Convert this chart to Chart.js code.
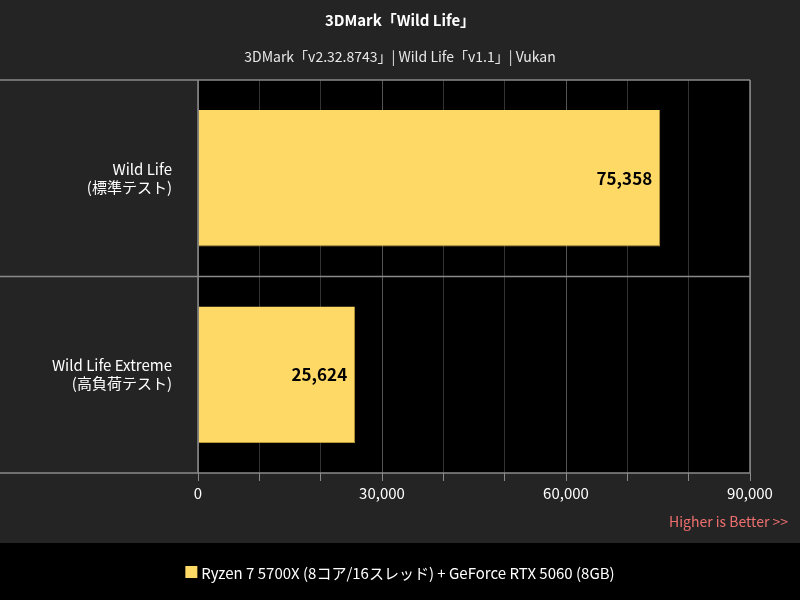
<!DOCTYPE html>
<html><head><meta charset="utf-8">
<script src="https://cdn.jsdelivr.net/npm/chart.js@4"></script>
<style>html,body{margin:0;padding:0;background:#242424}canvas{display:block}</style>
</head><body>
<div style="width:800px;height:600px"><canvas id="c" width="800" height="600"></canvas></div>
<script>
const categories = [["Wild Life","(標準テスト)"],["Wild Life Extreme","(高負荷テスト)"]];
const scores = [75358, 25624];
const seriesLabel = "Ryzen 7 5700X (8コア/16スレッド) + GeForce RTX 5060 (8GB)";
const titleText = "3DMark「Wild Life」";
const subtitleText = "3DMark「v2.32.8743」| Wild Life「v1.1」| Vukan";
const FONT = "'Noto Sans CJK JP','Noto Sans',sans-serif";

const deco = {
  id:'deco',
  beforeDraw(ch){
    const c=ch.ctx, a=ch.chartArea;
    c.save();
    c.fillStyle='#242424'; c.fillRect(0,0,800,600);
    c.fillStyle='#000'; c.fillRect(a.left,a.top,a.right-a.left,a.bottom-a.top);
    c.fillRect(0,543,800,57);
    c.restore();
  },
  afterDatasetsDraw(ch){
    const c=ch.ctx, a=ch.chartArea, y=ch.scales.y, x=ch.scales.x;
    c.save();
    c.strokeStyle='#8a8a8a'; c.lineWidth=1.5;
    const n=categories.length;
    for(let i=0;i<=n;i++){
      const yy = a.top + (a.bottom-a.top)*i/n;
      c.beginPath(); c.moveTo(0,yy); c.lineTo(a.right,yy); c.stroke();
    }
    c.beginPath(); c.moveTo(a.left,a.top); c.lineTo(a.left,a.bottom); c.stroke();
    c.beginPath(); c.moveTo(a.right,a.top); c.lineTo(a.right,a.bottom); c.stroke();
    // value labels
    const meta=ch.getDatasetMeta(0);
    c.fillStyle='#000'; c.font="bold 17px "+FONT; c.textAlign='right'; c.textBaseline='middle';
    meta.data.forEach((b,i)=>{ c.fillText(scores[i].toLocaleString('en-US'), b.x-8, b.y); });
    // title
    c.fillStyle='#fff'; c.textAlign='center';
    c.font="bold 15px "+FONT; c.fillText(titleText,400,20);
    c.font="14px "+FONT; c.fillStyle='#e8e8e8'; c.fillText(subtitleText,400,57);
    c.font="14px "+FONT; c.fillStyle='#f07070'; c.textAlign='right'; c.fillText("Higher is Better >>",788,522);
    // legend
    c.font="15px "+FONT; c.fillStyle='#fff'; c.textAlign='left';
    const w=c.measureText(seriesLabel).width; const sx=400-(w+16)/2;
    c.fillStyle='#ffd966'; c.fillRect(sx,566,12,12);
    c.fillStyle='#fff'; c.fillText(seriesLabel,sx+16,573);
    c.restore();
  }
};

new Chart(document.getElementById('c'),{
  type:'bar',
  data:{labels:categories,datasets:[{label:seriesLabel,data:scores,backgroundColor:'#ffd966',borderColor:'#b8963a',borderWidth:{right:1,bottom:1},barPercentage:0.98,categoryPercentage:0.71}]},
  options:{
    indexAxis:'y',responsive:false,animation:false,
    layout:{padding:{top:80,right:50,bottom:87,left:0}},
    plugins:{legend:{display:false},title:{display:false},tooltip:{enabled:false}},
    scales:{
      x:{min:0,max:90000,ticks:{stepSize:10000,color:'#fff',font:{size:15,family:FONT},
          callback:(v)=> v%30000===0 ? v.toLocaleString('en-US') : ''},
         grid:{color:(ctx)=> ctx.tick && ctx.tick.value%30000===0 ? '#555':'#333',drawTicks:true,tickLength:8,tickColor:'#8a8a8a'},
         border:{display:false},afterFit(s){s.height=40;}},
      y:{ticks:{color:'#fff',font:{size:15,family:FONT},padding:18},grid:{display:false},border:{display:false},
         afterFit(s){s.width=198;}}
    }
  },
  plugins:[deco]
});
</script></body></html>
